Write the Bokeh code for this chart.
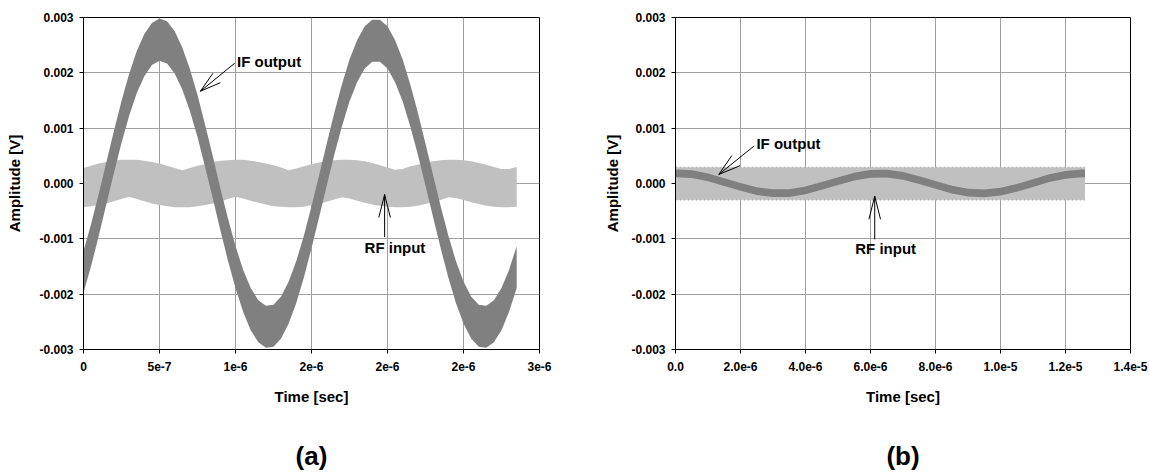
from bokeh.plotting import figure
from bokeh.models import (Range1d, FixedTicker, LinearAxis, Label, ColumnDataSource,
                          CustomJSTickFormatter)
from bokeh.layouts import row
from bokeh.embed import file_html
from bokeh.resources import INLINE

FONT = "Liberation Sans"

# ---------------- data ----------------
# Panel (a): time in microseconds
t_a_us = [0.00, 0.05, 0.10, 0.15, 0.20, 0.25, 0.30, 0.35, 0.40, 0.45,
          0.50, 0.55, 0.60, 0.65, 0.70, 0.75, 0.80, 0.85, 0.90, 0.95,
          1.00, 1.05, 1.10, 1.15, 1.20, 1.25, 1.30, 1.35, 1.40, 1.45,
          1.50, 1.55, 1.60, 1.65, 1.70, 1.75, 1.80, 1.85, 1.90, 1.95,
          2.00, 2.05, 2.10, 2.15, 2.20, 2.25, 2.30, 2.35, 2.40, 2.45,
          2.50, 2.55, 2.60, 2.65, 2.70, 2.75, 2.80, 2.85]
# IF output band centre (mV) and half-width of the RF ripple on it (mV)
if_a_mv = [-1.60, -1.11, -0.57, 0.00, 0.57, 1.11, 1.60, 2.01, 2.32, 2.52,
           2.60, 2.55, 2.37, 2.08, 1.69, 1.22, 0.68, 0.12, -0.46, -1.01,
           -1.51, -1.94, -2.27, -2.49, -2.59, -2.57, -2.42, -2.15, -1.78, -1.32,
           -0.79, -0.23, 0.34, 0.90, 1.41, 1.86, 2.21, 2.46, 2.58, 2.58,
           2.46, 2.21, 1.86, 1.41, 0.90, 0.34, -0.23, -0.79, -1.32, -1.78,
           -2.15, -2.42, -2.57, -2.59, -2.49, -2.27, -1.94, -1.51]
if_a_ripple_mv = 0.38
# RF input band: upper and lower envelope (mV)
rf_a_top_mv = [0.28, 0.32, 0.36, 0.39, 0.41, 0.43, 0.43, 0.43, 0.41, 0.39,
               0.36, 0.32, 0.28, 0.24, 0.28, 0.32, 0.35, 0.39, 0.41, 0.42,
               0.43, 0.43, 0.41, 0.39, 0.36, 0.33, 0.29, 0.24, 0.27, 0.31,
               0.35, 0.38, 0.41, 0.42, 0.43, 0.43, 0.42, 0.40, 0.37, 0.33,
               0.29, 0.25, 0.26, 0.31, 0.34, 0.38, 0.40, 0.42, 0.43, 0.43,
               0.42, 0.40, 0.37, 0.34, 0.30, 0.26, 0.26, 0.30]
rf_a_bot_mv = [-0.43, -0.41, -0.39, -0.36, -0.32, -0.28, -0.24, -0.28, -0.32, -0.36,
               -0.39, -0.41, -0.43, -0.43, -0.43, -0.41, -0.39, -0.36, -0.33, -0.28,
               -0.24, -0.27, -0.31, -0.35, -0.38, -0.41, -0.42, -0.43, -0.43, -0.42,
               -0.39, -0.37, -0.33, -0.29, -0.25, -0.27, -0.31, -0.35, -0.38, -0.40,
               -0.42, -0.43, -0.43, -0.42, -0.40, -0.37, -0.34, -0.30, -0.25, -0.26,
               -0.30, -0.34, -0.37, -0.40, -0.42, -0.43, -0.43, -0.42]

# Panel (b): time in microseconds
t_b_us = [0.0, 0.5, 1.0, 1.5, 2.0, 2.5, 3.0, 3.5, 4.0, 4.5,
          5.0, 5.5, 6.0, 6.5, 7.0, 7.5, 8.0, 8.5, 9.0, 9.5,
          10.0, 10.5, 11.0, 11.5, 12.0, 12.5, 12.6]
if_b_mv = [0.185, 0.168, 0.112, 0.027, -0.062, -0.137, -0.176, -0.172, -0.124, -0.045,
           0.045, 0.124, 0.172, 0.178, 0.137, 0.062, -0.027, -0.110, -0.165, -0.179,
           -0.148, -0.079, 0.009, 0.095, 0.157, 0.182, 0.183]
if_b_ripple_mv = 0.07
rf_b_t_us = [0.0, 12.6]
rf_b_top_mv = [0.29, 0.29]
rf_b_bot_mv = [-0.295, -0.295]

# Axes
y_ticks = [-0.003, -0.002, -0.001, 0.0, 0.001, 0.002, 0.003]
y_tick_labels = ["-0.003", "-0.002", "-0.001", "0.000", "0.001", "0.002", "0.003"]
x_ticks_a = [0.0, 5e-7, 1e-6, 1.5e-6, 2e-6, 2.5e-6, 3e-6]
x_tick_labels_a = ["0", "5e-7", "1e-6", "2e-6", "2e-6", "2e-6", "3e-6"]
x_ticks_b = [0.0, 2e-6, 4e-6, 6e-6, 8e-6, 1e-5, 1.2e-5, 1.4e-5]
x_tick_labels_b = ["0.0", "2.0e-6", "4.0e-6", "6.0e-6", "8.0e-6", "1.0e-5", "1.2e-5", "1.4e-5"]

IF_COLOR = "#808080"
RF_COLOR = "#c0c0c0"
GRID_COLOR = "#a0a0a0"


def label_formatter(vals, labels):
    return CustomJSTickFormatter(args=dict(vals=vals, labels=labels), code="""
        let best = 0;
        for (let i = 0; i < vals.length; i++) {
            if (Math.abs(vals[i] - tick) < Math.abs(vals[best] - tick)) best = i;
        }
        return labels[best];
    """)


def make_panel(width, height, border_l, border_r, border_t, border_b, x_end,
               x_ticks, x_labels, ylabel_standoff, caption):
    p = figure(width=width, height=height, x_range=Range1d(0, x_end),
               y_range=Range1d(-0.003, 0.003), output_backend="svg",
               toolbar_location=None, title=None,
               min_border_left=border_l, min_border_right=border_r,
               min_border_top=border_t, min_border_bottom=border_b)
    p.outline_line_color = "black"
    p.outline_line_width = 1
    p.background_fill_color = "white"
    p.border_fill_color = "white"

    xt = FixedTicker(ticks=x_ticks, minor_ticks=[])
    yt = FixedTicker(ticks=y_ticks, minor_ticks=[])
    p.xaxis.ticker = xt
    p.yaxis.ticker = yt
    p.xgrid.ticker = xt
    p.ygrid.ticker = yt
    p.xaxis.formatter = label_formatter(x_ticks, x_labels)
    p.yaxis.formatter = label_formatter(y_ticks, y_tick_labels)
    for g in (p.xgrid, p.ygrid):
        g.grid_line_color = GRID_COLOR
        g.grid_line_width = 1

    for ax in (p.xaxis, p.yaxis):
        ax.axis_line_color = "black"
        ax.major_tick_line_color = "black"
        ax.minor_tick_line_color = None
        ax.major_tick_in = 0
        ax.major_tick_out = 4
        ax.major_label_text_font = FONT
        ax.major_label_text_font_style = "bold"
        ax.major_label_text_font_size = "12px"
        ax.major_label_text_color = "black"
        ax.axis_label_text_font = FONT
        ax.axis_label_text_font_style = "bold"
        ax.axis_label_text_font_size = "15px"
        ax.axis_label_text_color = "black"
    p.xaxis.axis_label = "Time [sec]"
    p.yaxis.axis_label = "Amplitude [V]"
    p.xaxis.major_label_standoff = 8
    p.yaxis.major_label_standoff = 6
    p.xaxis.axis_label_standoff = 14
    p.yaxis.axis_label_standoff = ylabel_standoff

    cap = LinearAxis(axis_label=caption, ticker=FixedTicker(ticks=[]),
                     axis_line_color=None, major_tick_line_color=None,
                     minor_tick_line_color=None, major_label_text_font_size="0px",
                     major_tick_out=0, major_tick_in=0, major_label_standoff=0,
                     axis_label_standoff=33, axis_label_text_font=FONT,
                     axis_label_text_font_style="bold", axis_label_text_font_size="26px",
                     axis_label_text_color="black")
    p.add_layout(cap, "below")
    return p


def draw_arrow(p, tip, tail, ppx, ppy, head_len, head_hw):
    dx = (tail[0] - tip[0]) * ppx
    dy = (tail[1] - tip[1]) * ppy
    L = (dx * dx + dy * dy) ** 0.5
    ux, uy = dx / L, dy / L
    nx, ny = -uy, ux
    h1 = (tip[0] + (ux * head_len + nx * head_hw) / ppx, tip[1] + (uy * head_len + ny * head_hw) / ppy)
    h2 = (tip[0] + (ux * head_len - nx * head_hw) / ppx, tip[1] + (uy * head_len - ny * head_hw) / ppy)
    p.segment(x0=[tip[0], tip[0], tip[0]], y0=[tip[1], tip[1], tip[1]],
              x1=[tail[0], h1[0], h2[0]], y1=[tail[1], h1[1], h2[1]],
              line_color="black", line_width=1)


def add_label(p, x, y, text):
    p.add_layout(Label(x=x, y=y, text=text, text_font=FONT, text_font_style="bold",
                       text_font_size="15px", text_color="black",
                       text_baseline="middle", text_align="left"))


H = 474
TOP = 17
FRAME_H = 332
FRAME_WA = 456
FRAME_WB = 455

# ---------------- panel (a) ----------------
pa = make_panel(83 + FRAME_WA + 40, H, 83, 40, TOP, H - TOP - FRAME_H, 3e-6,
                x_ticks_a, x_tick_labels_a, 13, "(a)")
ta = [v * 1e-6 for v in t_a_us]
src_rf_a = ColumnDataSource(dict(t=ta, lo=[v * 1e-3 for v in rf_a_bot_mv],
                                 hi=[v * 1e-3 for v in rf_a_top_mv]))
src_if_a = ColumnDataSource(dict(t=ta, lo=[(v - if_a_ripple_mv) * 1e-3 for v in if_a_mv],
                                 hi=[(v + if_a_ripple_mv) * 1e-3 for v in if_a_mv]))
pa.varea(x="t", y1="lo", y2="hi", source=src_rf_a, fill_color=RF_COLOR)
pa.varea(x="t", y1="lo", y2="hi", source=src_if_a, fill_color=IF_COLOR)

ppx_a = FRAME_WA / 3e-6
ppy = FRAME_H / 0.006
draw_arrow(pa, (0.769e-6, 1.667e-3), (0.995e-6, 2.174e-3), ppx_a, ppy, 21, 6)
add_label(pa, 1.01e-6, 2.21e-3, "IF output")
draw_arrow(pa, (1.981e-6, -0.199e-3), (1.981e-6, -0.97e-3), ppx_a, ppy, 23, 5.8)
add_label(pa, 1.849e-6, -1.151e-3, "RF input")

# ---------------- panel (b) ----------------
pb = make_panel(96 + FRAME_WB + 20, H, 96, 20, TOP, H - TOP - FRAME_H, 1.4e-5,
                x_ticks_b, x_tick_labels_b, 7, "(b)")
tb = [v * 1e-6 for v in t_b_us]
src_rf_b = ColumnDataSource(dict(t=[v * 1e-6 for v in rf_b_t_us],
                                 lo=[v * 1e-3 for v in rf_b_bot_mv],
                                 hi=[v * 1e-3 for v in rf_b_top_mv]))
src_if_b = ColumnDataSource(dict(t=tb, lo=[(v - if_b_ripple_mv) * 1e-3 for v in if_b_mv],
                                 hi=[(v + if_b_ripple_mv) * 1e-3 for v in if_b_mv]))
pb.varea(x="t", y1="lo", y2="hi", source=src_rf_b, fill_color=RF_COLOR)
pb.line(x="t", y="hi", source=src_rf_b, line_color="#b4b4b4", line_width=1.5, line_dash="2 2")
pb.line(x="t", y="lo", source=src_rf_b, line_color="#b4b4b4", line_width=1.5, line_dash="2 2")
pb.varea(x="t", y1="lo", y2="hi", source=src_if_b, fill_color=IF_COLOR)

ppx_b = FRAME_WB / 1.4e-5
draw_arrow(pb, (1.332e-6, 0.163e-3), (2.41e-6, 0.674e-3), ppx_b, ppy, 22, 6.5)
add_label(pb, 2.49e-6, 0.716e-3, "IF output")
draw_arrow(pb, (6.13e-6, -0.23e-3), (6.13e-6, -1.01e-3), ppx_b, ppy, 23, 5.8)
add_label(pb, 5.53e-6, -1.175e-3, "RF input")

layout = row(pa, pb)
open("out.html", "w").write(file_html(layout, INLINE))
